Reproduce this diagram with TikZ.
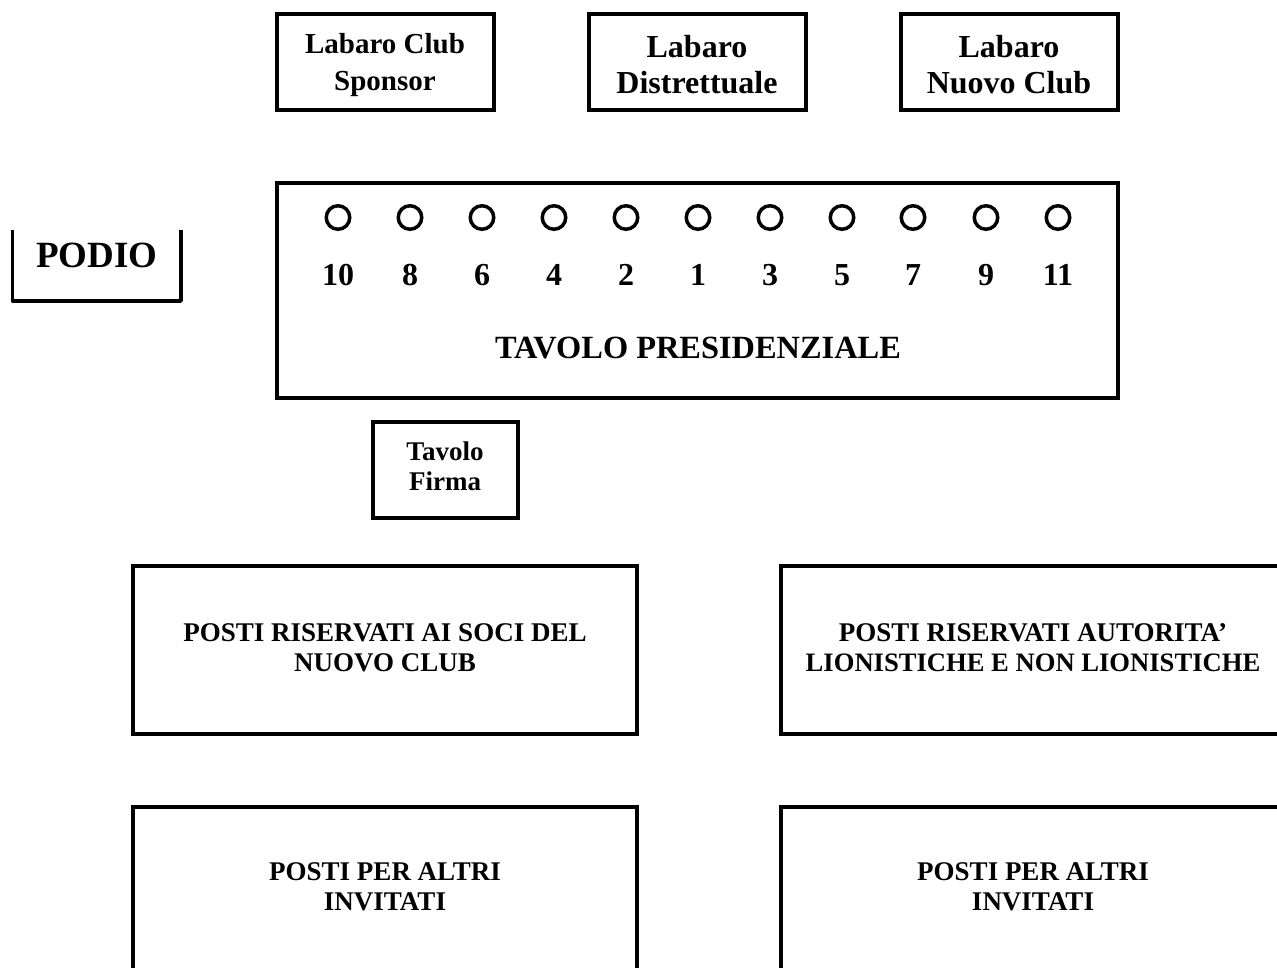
\documentclass[tikz,border=0pt]{standalone}
\usepackage{fontspec}
\setmainfont{Liberation Serif}
\newcommand{\fsz}[2]{\fontsize{#1}{#2}\selectfont\bfseries}
\begin{document}
\begin{tikzpicture}[x=1pt,y=-1pt,
  boxn/.style={draw=black,line width=3.5pt,anchor=north west,inner sep=0pt,outer sep=0pt},
  seat/.style={draw=black,line width=3.5pt,circle,minimum size=23.5pt,inner sep=0pt,outer sep=0pt},
  numl/.style={inner sep=0pt,font=\fsz{32}{36}},
  lbl/.style={inner sep=0pt,align=center,text=black}]
\useasboundingbox (0,0) rectangle (1277,967);
\clip (0,0) rectangle (1277,967);
\tikzset{bsize/.style n args={2}{minimum width=#1pt,minimum height=#2pt}}
\node[boxn,bsize={217}{96}] (sponsor) at (277,14) {};
\node[lbl,font=\fsz{29}{36.5}] (sponsort) at (385,65) {Labaro Club\\Sponsor};
\node[boxn,bsize={217}{96}] (distr) at (589,14) {};
\node[lbl,font=\fsz{32}{36}] (distrt) at (697,65) {Labaro\\Distrettuale};
\node[boxn,bsize={217}{96}] (nuovo) at (901,14) {};
\node[lbl,font=\fsz{32}{36}] (nuovot) at (1009,65) {Labaro\\Nuovo Club};
\node[boxn,bsize={841}{215}] (tavolo) at (277,183) {};
\foreach \n/\x in {10/338,8/410,6/482,4/554,2/626,1/698,3/770,5/842,7/913,9/986,11/1058}{
  \node[seat] (s\n) at (\x,217.5) {};
  \node[numl] (n\n) at (\x,275) {\n};
}
\node[lbl,font=\fsz{32.4}{36}] (tp) at (698,348) {TAVOLO PRESIDENZIALE};
\node[boxn,bsize={145}{96}] (firma) at (373,422) {};
\node[lbl,font=\fsz{27}{30}] (firmat) at (445,466) {Tavolo\\Firma};
\node[boxn,bsize={504}{168}] (a) at (133,566) {};
\node[lbl,font=\fsz{27}{30}] (at) at (385,647.5) {POSTI RISERVATI AI SOCI DEL\\NUOVO CLUB};
\node[boxn,bsize={504}{168}] (b) at (781,566) {};
\node[lbl,font=\fsz{27}{30}] (bt) at (1033,647.5) {POSTI RISERVATI AUTORITA’\\\fsz{26.6}{30}LIONISTICHE E NON LIONISTICHE};
\node[boxn,bsize={504}{168}] (c) at (133,807) {};
\node[lbl,font=\fsz{27}{30}] (ct) at (385,887) {POSTI PER ALTRI\\INVITATI};
\node[boxn,bsize={504}{168}] (d) at (781,807) {};
\node[lbl,font=\fsz{27}{30}] (dt) at (1033,887) {POSTI PER ALTRI\\INVITATI};
\node[lbl,font=\fsz{37}{40}] (podio) at (97,255) {PODIO};
\draw[line width=3.5pt,line join=round] (12.5,230) -- (12.5,301) -- (181,301) -- (181,230);
\end{tikzpicture}
\end{document}
